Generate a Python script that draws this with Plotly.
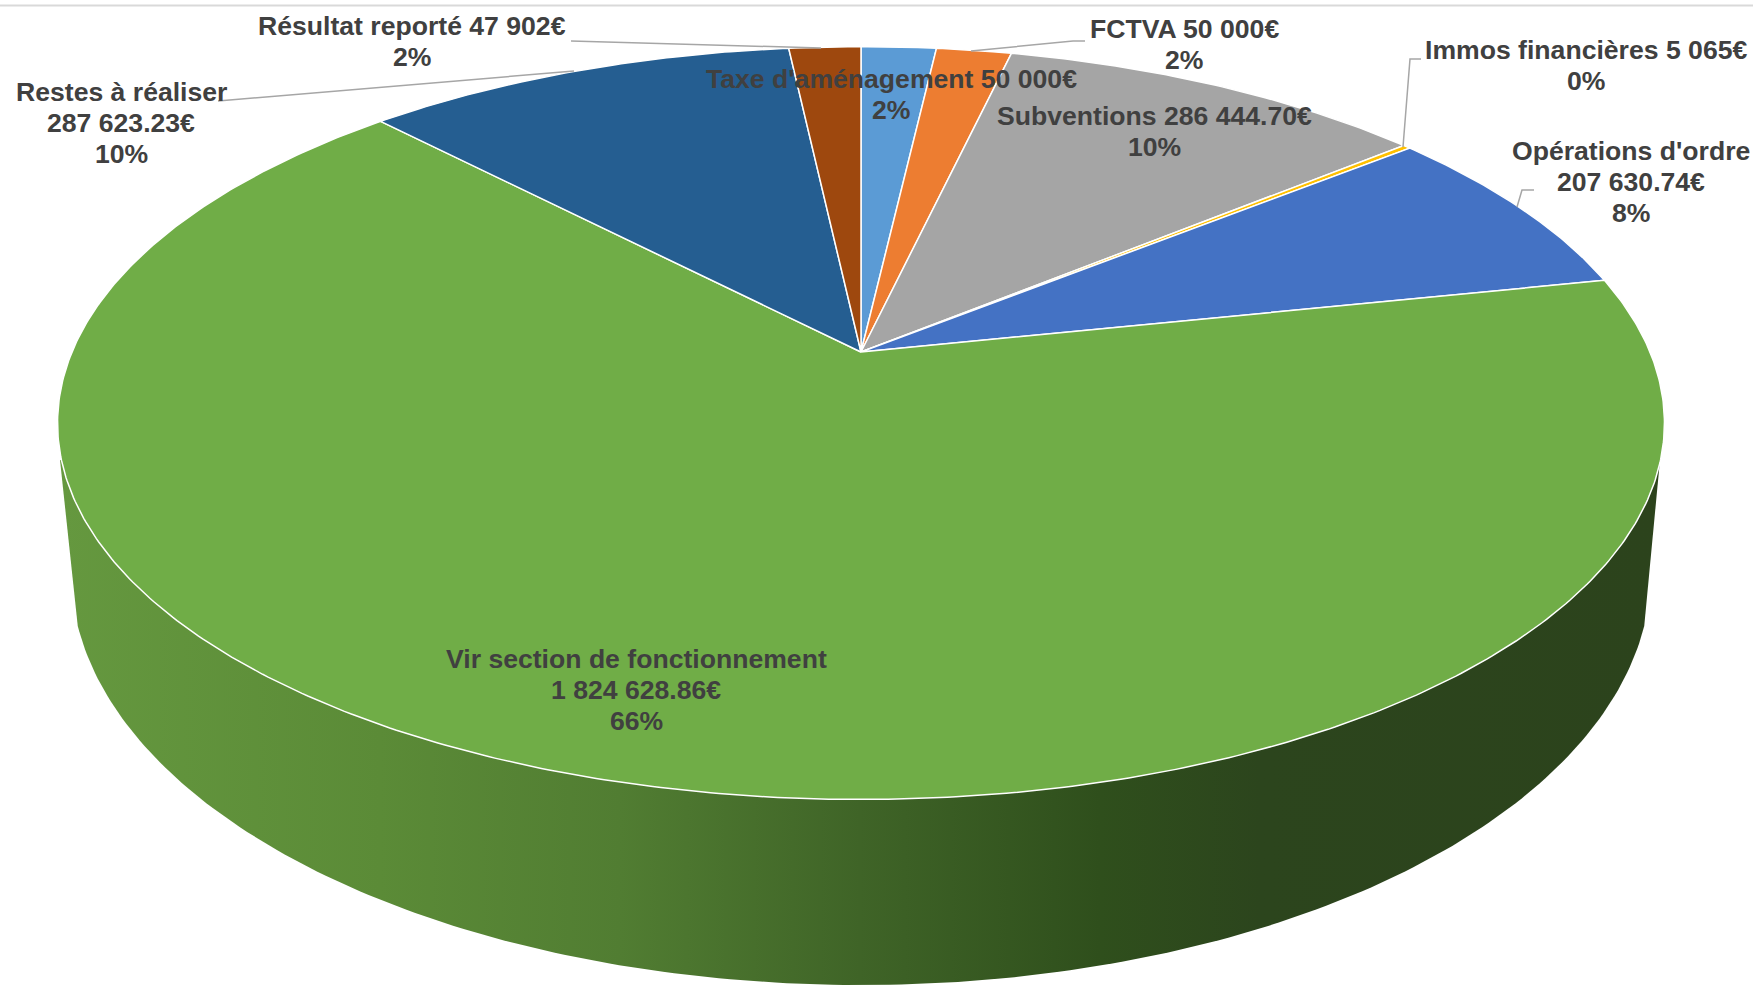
import numpy as np
import plotly.graph_objects as go

# Data
categories = ["Taxe d'aménagement", "FCTVA", "Subventions", "Immos financières",
              "Opérations d'ordre", "Vir section de fonctionnement",
              "Restes à réaliser", "Résultat reporté"]
values = [50000, 50000, 286444.70, 5065, 207630.74, 1824628.86, 287623.23, 47902]
colors = ["#5b9bd5", "#ed7d31", "#a5a5a5", "#ffc000", "#4472c4", "#70ad47", "#255e91", "#9e480e"]

label_lines = [
    ["Taxe d'aménagement 50 000€", "2%"],
    ["FCTVA 50 000€", "2%"],
    ["Subventions 286 444.70€", "10%"],
    ["Immos financières 5 065€", "0%"],
    ["Opérations d'ordre", "207 630.74€", "8%"],
    ["Vir section de fonctionnement", "1 824 628.86€", "66%"],
    ["Restes à réaliser", "287 623.23€", "10%"],
    ["Résultat reporté 47 902€", "2%"],
]
label_x = [891, 1184, 1154, 1586, 1631, 636, 121, 412]
label_y = [79, 29, 116, 50, 151, 659, 92, 26]
LINE_H = 31

leaders = [
    ([571, 821], [41, 48]),
    ([218, 574], [101, 71]),
    ([971, 1073, 1085], [51, 41, 41]),
    ([1403, 1410, 1421], [147, 59, 59]),
    ([1517, 1522, 1534], [207, 190, 190]),
]

# Projection of the tilted disc
W, H = 1753, 986
CX, CY = 861, 352
A, B, K = 789, 363, 0.1888


def project(phi):
    u, v = np.sin(phi), np.cos(phi)
    d = 1 + K * v
    return CX + A * u / d, CY - B * v / d


fig = go.Figure()

# Side wall
E_A, E_B, E_C = 790, 413, 572
t = np.radians(np.linspace(-172.5, -7.5, 200))
wx = CX + E_A * np.cos(t)
wy = E_C - E_B * np.sin(t)
order = np.argsort(wx)
wall_x = np.r_[60, wx[order], 1660]
wall_y = np.r_[460, wy[order], 460]
fig.add_trace(go.Scatter(
    x=wall_x, y=wall_y, mode="lines", fill="toself", line=dict(width=0),
    fillgradient=dict(type="horizontal", start=60, stop=1660, colorscale=[
        [0.0, "#65983f"], [0.2, "#5b8b37"], [0.35, "#517d32"], [0.5, "#3f6427"],
        [0.65, "#2f4f1c"], [0.75, "#2c451d"], [1.0, "#2c431c"]]),
    hoverinfo="skip", showlegend=False))

# Top slices
total = sum(values)
cum = 0.0
for name, val, col in zip(categories, values, colors):
    start, stop = cum / total * 2 * np.pi, (cum + val) / total * 2 * np.pi
    cum += val
    phi = np.linspace(start, stop, max(3, int(val / total * 720)))
    px, py = project(phi)
    fig.add_trace(go.Scatter(
        x=np.r_[CX, px, CX], y=np.r_[CY, py, CY], mode="lines", fill="toself",
        fillcolor=col, line=dict(color="white", width=1.5), name=name,
        hoverinfo="name", showlegend=False))

# Leader lines
for lx, ly in leaders:
    fig.add_trace(go.Scatter(x=lx, y=ly, mode="lines", line=dict(color="#a6a6a6", width=1.5),
                             hoverinfo="skip", showlegend=False))

# Top rule
fig.add_trace(go.Scatter(x=[0, W], y=[5.5, 5.5], mode="lines", line=dict(color="#d9d9d9", width=2),
                         hoverinfo="skip", showlegend=False))

annotations = []
for lines, x0, y0 in zip(label_lines, label_x, label_y):
    for i, line in enumerate(lines):
        annotations.append(dict(
            x=x0, y=y0 + i * LINE_H, xref="x", yref="y", text=line, showarrow=False,
            xanchor="center", yanchor="middle",
            font=dict(family="Liberation Sans", size=26.6, color="#404040", weight="bold")))

fig.update_layout(
    width=W, height=H, margin=dict(l=0, r=0, t=0, b=0),
    paper_bgcolor="white", plot_bgcolor="white", showlegend=False,
    xaxis=dict(range=[0, W], visible=False, fixedrange=True),
    yaxis=dict(range=[H, 0], visible=False, fixedrange=True),
    annotations=annotations)

fig.write_html("out.html", config={"displayModeBar": False},
               post_script="document.body.style.margin='0';document.body.style.overflow='hidden';")
